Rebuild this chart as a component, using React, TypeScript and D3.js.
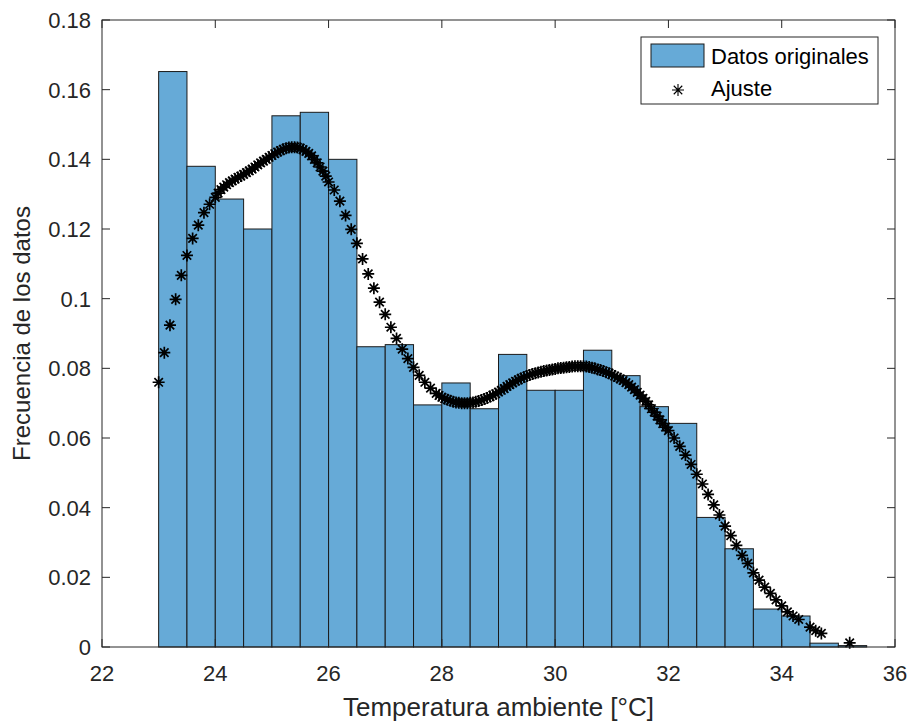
import React from "react";
import * as d3 from "d3";

// Histogram bins (°C) and normalized frequencies
const binEdges = [23, 23.5, 24, 24.5, 25, 25.5, 26, 26.5, 27, 27.5, 28, 28.5, 29, 29.5, 30, 30.5, 31, 31.5, 32, 32.5, 33, 33.5, 34, 34.5, 35, 35.5];
const frequencies = [0.1652, 0.1380, 0.1286, 0.1200, 0.1525, 0.1535, 0.1400, 0.0862, 0.0868, 0.0695, 0.0758, 0.0684, 0.0840, 0.0737, 0.0737, 0.0852, 0.0779, 0.0690, 0.0642, 0.0372, 0.0282, 0.0109, 0.0089, 0.0011, 0.0004];

// Fitted curve ("Ajuste") points
const fitX = [
  23.0, 23.1, 23.2, 23.3, 23.4, 23.5, 23.6, 23.7, 23.8, 23.9, 24.0,
  24.05, 24.1, 24.15, 24.2, 24.25, 24.3, 24.35, 24.4, 24.45, 24.5, 24.55, 24.6, 24.65, 24.7, 24.75, 24.8, 24.85, 24.9, 24.95, 25.0,
  25.05, 25.1, 25.15, 25.2, 25.25, 25.3, 25.35, 25.4, 25.45, 25.5, 25.55, 25.6, 25.65, 25.7, 25.75, 25.8, 25.85, 25.9, 25.95, 26.0,
  26.1, 26.2, 26.3, 26.4, 26.5, 26.6, 26.7, 26.8, 26.9, 27.0, 27.1, 27.2, 27.3, 27.4, 27.5, 27.6, 27.7, 27.8, 27.9,
  27.95, 28.0, 28.05, 28.1, 28.15, 28.2, 28.25, 28.3, 28.35, 28.4, 28.45, 28.5, 28.55, 28.6, 28.65, 28.7, 28.75, 28.8, 28.85, 28.9, 28.95,
  29.0, 29.05, 29.1, 29.15, 29.2, 29.25, 29.3, 29.35, 29.4, 29.45, 29.5, 29.55, 29.6, 29.65, 29.7, 29.75, 29.8, 29.85, 29.9, 29.95,
  30.0, 30.05, 30.1, 30.15, 30.2, 30.25, 30.3, 30.35, 30.4, 30.45, 30.5, 30.55, 30.6, 30.65, 30.7, 30.75, 30.8, 30.85, 30.9, 30.95,
  31.0, 31.05, 31.1, 31.15, 31.2, 31.25, 31.3, 31.35, 31.4, 31.45, 31.5, 31.55, 31.6, 31.65, 31.7, 31.75, 31.8, 31.85, 31.9, 31.95, 32.0,
  32.1, 32.2, 32.3, 32.4, 32.5, 32.6, 32.7, 32.8, 32.9, 33.0, 33.1, 33.2, 33.3, 33.4, 33.5, 33.6, 33.7, 33.8, 33.9, 34.0,
  34.1, 34.2, 34.3, 34.5, 34.6, 34.7, 35.2,
];
const fitY = [
  0.0760, 0.0845, 0.0924, 0.0998, 0.1067, 0.1124, 0.1173, 0.1211, 0.1247, 0.1271, 0.1291,
  0.1303, 0.1313, 0.1320, 0.1327, 0.1333, 0.1338, 0.1343, 0.1348, 0.1352, 0.1357, 0.1362, 0.1367, 0.1372, 0.1378, 0.1384, 0.1390, 0.1395, 0.1400, 0.1406, 0.1411,
  0.1416, 0.1421, 0.1425, 0.1429, 0.1432, 0.1434, 0.1435, 0.1435, 0.1434, 0.1432, 0.1428, 0.1423, 0.1417, 0.1410, 0.1400, 0.1390, 0.1378, 0.1366, 0.1352, 0.1335,
  0.1312, 0.1280, 0.1239, 0.1199, 0.1159, 0.1114, 0.1071, 0.1030, 0.0990, 0.0955, 0.0918, 0.0886, 0.0855, 0.0828, 0.0803, 0.0780, 0.0760, 0.0743, 0.0728,
  0.0722, 0.0717, 0.0713, 0.0710, 0.0707, 0.0704, 0.0702, 0.0701, 0.0700, 0.0700, 0.0700, 0.0701, 0.0702, 0.0704, 0.0706, 0.0709, 0.0712, 0.0715, 0.0719, 0.0723, 0.0727,
  0.0732, 0.0737, 0.0742, 0.0748, 0.0753, 0.0758, 0.0763, 0.0767, 0.0771, 0.0775, 0.0778, 0.0781, 0.0784, 0.0786, 0.0788, 0.0790, 0.0792, 0.0794, 0.0795, 0.0797,
  0.0798, 0.0800, 0.0801, 0.0802, 0.0803, 0.0804, 0.0805, 0.0806, 0.0806, 0.0806, 0.0806, 0.0805, 0.0804, 0.0802, 0.0800, 0.0797, 0.0795, 0.0792, 0.0789, 0.0786,
  0.0782, 0.0778, 0.0774, 0.0770, 0.0765, 0.0759, 0.0753, 0.0746, 0.0739, 0.0731, 0.0723, 0.0714, 0.0705, 0.0695, 0.0684, 0.0674, 0.0663, 0.0652, 0.0641, 0.0631, 0.0621,
  0.0600, 0.0576, 0.0551, 0.0524, 0.0496, 0.0468, 0.0438, 0.0408, 0.0379, 0.0347, 0.0320, 0.0292, 0.0263, 0.0240, 0.0213, 0.0192, 0.0172, 0.0154, 0.0135, 0.0118,
  0.0101, 0.0089, 0.0079, 0.0057, 0.0047, 0.0039, 0.0012,
];

const xTicks = [22, 24, 26, 28, 30, 32, 34, 36];
const yTicks = [0, 0.02, 0.04, 0.06, 0.08, 0.1, 0.12, 0.14, 0.16, 0.18];
const xLabel = "Temperatura ambiente [°C]";
const yLabel = "Frecuencia de los datos";
const legendLabels = ["Datos originales", "Ajuste"];

const W = 912;
const H = 724;
const M = { left: 102, right: 895, top: 20, bottom: 647 };
const FONT = "'Liberation Sans', Arial, Helvetica, sans-serif";
const AX = "#262626";
const BAR_FILL = "#66aad7";
const TICK = 8;

function asteriskPath(r: number) {
  const a = r * Math.SQRT1_2;
  return `M${-r},0H${r}M0,${-r}V${r}M${-a},${-a}L${a},${a}M${-a},${a}L${a},${-a}`;
}

export default function App() {
  const x = d3.scaleLinear().domain([22, 36]).range([M.left, M.right]);
  const y = d3.scaleLinear().domain([0, 0.18]).range([M.bottom, M.top]);
  const star = asteriskPath(6);
  const fmt = (v: number) => (v === 0 ? "0" : d3.format("")(+v.toFixed(2)));

  return (
    <svg width={W} height={H} style={{ position: "absolute", left: 0, top: 0, background: "#fff" }}>
      <rect x={0} y={0} width={W} height={H} fill="#fff" />
      {/* bars */}
      <g>
        {frequencies.map((f, i) => (
          <rect
            key={i}
            x={x(binEdges[i])}
            y={y(f)}
            width={x(binEdges[i + 1]) - x(binEdges[i])}
            height={y(0) - y(f)}
            fill={BAR_FILL}
            stroke="#1a1a1a"
            strokeWidth={1}
          />
        ))}
      </g>
      {/* fit markers */}
      <g stroke="#000" strokeWidth={1.7} fill="none">
        {fitX.map((t, i) => (
          <path key={i} d={star} transform={`translate(${x(t)},${y(fitY[i])})`} />
        ))}
      </g>
      {/* axes box */}
      <rect x={M.left} y={M.top} width={M.right - M.left} height={M.bottom - M.top} fill="none" stroke={AX} strokeWidth={1} />
      {/* ticks */}
      <g stroke={AX} strokeWidth={1}>
        {xTicks.map((t) => (
          <g key={t}>
            <line x1={x(t)} x2={x(t)} y1={M.bottom} y2={M.bottom - TICK} />
            <line x1={x(t)} x2={x(t)} y1={M.top} y2={M.top + TICK} />
          </g>
        ))}
        {yTicks.map((t) => (
          <g key={t}>
            <line x1={M.left} x2={M.left + TICK} y1={y(t)} y2={y(t)} />
            <line x1={M.right} x2={M.right - TICK} y1={y(t)} y2={y(t)} />
          </g>
        ))}
      </g>
      <g fontFamily={FONT} fontSize={22} fill={AX}>
        {xTicks.map((t) => (
          <text key={t} x={x(t)} y={M.bottom + 34} textAnchor="middle">
            {t}
          </text>
        ))}
        {yTicks.map((t) => (
          <text key={t} x={M.left - 11} y={y(t) + 8} textAnchor="end">
            {fmt(t)}
          </text>
        ))}
      </g>
      <text x={(M.left + M.right) / 2} y={716} textAnchor="middle" fontFamily={FONT} fontSize={26} fill={AX}>
        {xLabel}
      </text>
      <text
        transform={`translate(30,${(M.top + M.bottom) / 2}) rotate(-90)`}
        textAnchor="middle"
        fontFamily={FONT}
        fontSize={24}
        fill={AX}
      >
        {yLabel}
      </text>
      {/* legend */}
      <g fontFamily={FONT} fontSize={22} fill="#000">
        <rect x={641} y={37} width={237} height={67} fill="#fff" stroke={AX} strokeWidth={1} />
        <rect x={651} y={44} width={53} height={23} fill={BAR_FILL} stroke="#1a1a1a" strokeWidth={1} />
        <text x={711} y={64}>{legendLabels[0]}</text>
        <path d={asteriskPath(6)} transform="translate(678,90)" stroke="#000" strokeWidth={1.1} fill="none" />
        <text x={711} y={96}>{legendLabels[1]}</text>
      </g>
    </svg>
  );
}
